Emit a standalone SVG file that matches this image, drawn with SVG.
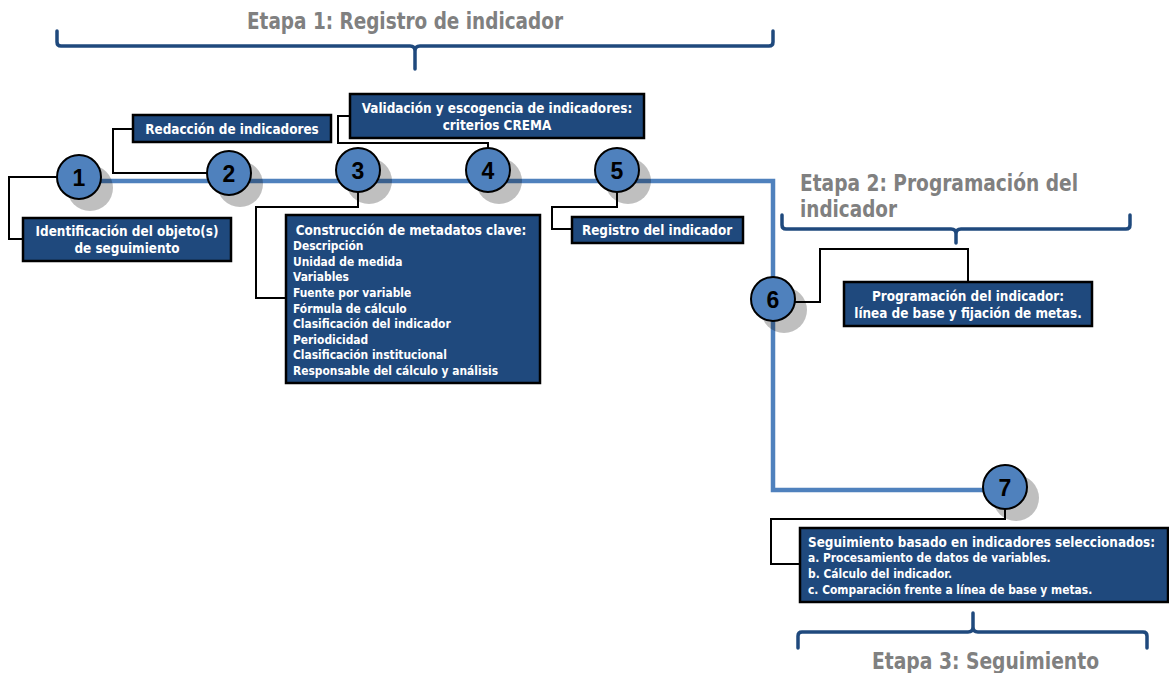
<svg xmlns="http://www.w3.org/2000/svg" width="1169" height="673" viewBox="0 0 1169 673">
<style>
.stage{font-family:"DejaVu Sans Condensed","DejaVu Sans",sans-serif;font-weight:bold;font-size:22.5px;fill:#808080}
.brace{fill:none;stroke:#1F497D;stroke-width:3.5;stroke-linecap:round;stroke-linejoin:round}
.main{fill:none;stroke:#4F81BD;stroke-width:4.5}
.conn{fill:none;stroke:#000;stroke-width:2}
.shadow{fill:#000;fill-opacity:0.25}
.circ{fill:#4F81BD;stroke:#000;stroke-width:2}
.num{font-family:"Liberation Sans",Arial,sans-serif;font-weight:bold;font-size:23px;fill:#000;text-anchor:middle}
.box{fill:#1F497D;stroke:#000;stroke-width:2.5}
.bt{font-family:"DejaVu Sans Condensed","DejaVu Sans",sans-serif;font-weight:bold;font-size:13.4px;fill:#fff}
.c{text-anchor:middle}
.it{font-size:11.9px}
</style>
<g id="stages">
<text class="stage" x="247" y="29" textLength="316" lengthAdjust="spacingAndGlyphs">Etapa 1: Registro de indicador</text>
<path class="brace" d="M57,31 V42 Q57,46 61,46 H410 Q415,46 415,51 V69 M415,51 Q415,46 420,46 H769 Q773,46 773,42 V31"/>
<text class="stage" x="800" y="191" textLength="278" lengthAdjust="spacingAndGlyphs">Etapa 2: Programación del</text>
<text class="stage" x="800" y="217" textLength="97" lengthAdjust="spacingAndGlyphs">indicador</text>
<path class="brace" d="M782,215 V225 Q782,229 786,229 H951 Q956,229 956,234 V243 M956,234 Q956,229 961,229 H1126 Q1130,229 1130,225 V215"/>
<path class="brace" d="M798,648 V636 Q798,632 802,632 H968 Q973,632 973,627 V613 M973,627 Q973,632 978,632 H1143 Q1147,632 1147,636 V648"/>
<text class="stage" x="872" y="669" textLength="227" lengthAdjust="spacingAndGlyphs">Etapa 3: Seguimiento</text>
</g>
<g id="connectors">
<path class="main" d="M80,181 H773 V490 H1005"/>
<polyline class="conn" points="58,177 9,177 9,239 23,239"/>
<polyline class="conn" points="208,173 113,173 113,129 133,129"/>
<polyline class="conn" points="358,192 358,207 256,207 256,298 286,298"/>
<polyline class="conn" points="488,149 488,143 338,143 338,116 350,116"/>
<polyline class="conn" points="617,191 617,207 552,207 552,229 572,229"/>
<polyline class="conn" points="795,302 820,302 820,249 968,249 968,282"/>
<polyline class="conn" points="1005,509 1005,519 771,519 771,564 800,564"/>
</g>
<g id="node1"><circle class="shadow" cx="90" cy="188" r="23"/><circle class="circ" cx="79" cy="177" r="22"/><text class="num" x="79" y="185.5">1</text></g>
<g id="node2"><circle class="shadow" cx="240" cy="184" r="23"/><circle class="circ" cx="229" cy="173" r="22"/><text class="num" x="229" y="181.5">2</text></g>
<g id="node3"><circle class="shadow" cx="369" cy="181" r="23"/><circle class="circ" cx="358" cy="170" r="22"/><text class="num" x="358" y="178.5">3</text></g>
<g id="node4"><circle class="shadow" cx="499" cy="181" r="23"/><circle class="circ" cx="488" cy="170" r="22"/><text class="num" x="488" y="178.5">4</text></g>
<g id="node5"><circle class="shadow" cx="628" cy="181" r="23"/><circle class="circ" cx="617" cy="170" r="22"/><text class="num" x="617" y="178.5">5</text></g>
<g id="node6"><circle class="shadow" cx="784" cy="310" r="23"/><circle class="circ" cx="773" cy="299" r="22"/><text class="num" x="773" y="307.5">6</text></g>
<g id="node7"><circle class="shadow" cx="1016" cy="498" r="23"/><circle class="circ" cx="1005" cy="487" r="22"/><text class="num" x="1005" y="495.5">7</text></g>
<g id="box1"><rect class="box" x="23" y="218" width="208" height="43"/>
<text class="bt c" x="127" y="235.5">Identificación del objeto(s)</text>
<text class="bt c" x="127" y="253">de seguimiento</text></g>
<g id="box2"><rect class="box" x="133" y="115" width="198" height="27"/>
<text class="bt c" x="232" y="134">Redacción de indicadores</text></g>
<g id="box4"><rect class="box" x="350" y="94" width="294" height="44"/>
<text class="bt c" x="497" y="113">Validación y escogencia de indicadores:</text>
<text class="bt c" x="497" y="130">criterios CREMA</text></g>
<g id="box3"><rect class="box" x="286" y="215" width="254" height="168"/>
<text class="bt c" x="411" y="235">Construcción de metadatos clave:</text>
<text class="bt it" x="293" y="250">Descripción</text>
<text class="bt it" x="293" y="265.5">Unidad de medida</text>
<text class="bt it" x="293" y="281">Variables</text>
<text class="bt it" x="293" y="297">Fuente por variable</text>
<text class="bt it" x="293" y="312.5">Fórmula de cálculo</text>
<text class="bt it" x="293" y="328">Clasificación del indicador</text>
<text class="bt it" x="293" y="343.5">Periodicidad</text>
<text class="bt it" x="293" y="359">Clasificación institucional</text>
<text class="bt it" x="293" y="375">Responsable del cálculo y análisis</text></g>
<g id="box5"><rect class="box" x="572" y="217" width="171" height="26"/>
<text class="bt c" x="657" y="235">Registro del indicador</text></g>
<g id="box6"><rect class="box" x="844" y="282" width="248" height="44"/>
<text class="bt c" x="968" y="301">Programación del indicador:</text>
<text class="bt c" x="968" y="318">línea de base y fijación de metas.</text></g>
<g id="box7"><rect class="box" x="800" y="528" width="368" height="74"/>
<text class="bt" x="808" y="547">Seguimiento basado en indicadores seleccionados:</text>
<text class="bt it" x="808" y="562">a. Procesamiento de datos de variables.</text>
<text class="bt it" x="808" y="578">b. Cálculo del indicador.</text>
<text class="bt it" x="808" y="594">c. Comparación frente a línea de base y metas.</text></g>
</svg>
